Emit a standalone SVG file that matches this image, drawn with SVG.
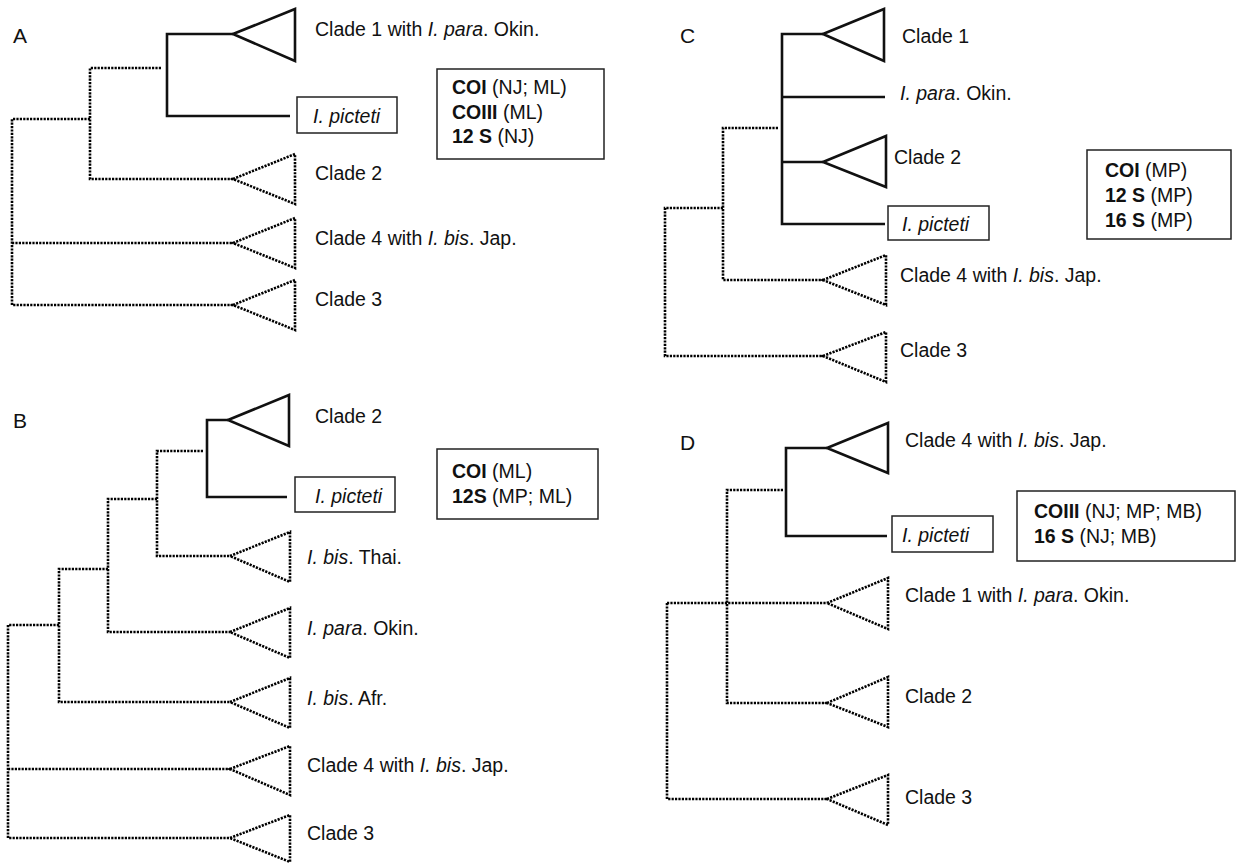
<svg xmlns="http://www.w3.org/2000/svg" width="1237" height="864" viewBox="0 0 1237 864">
<style>
text{font-family:"Liberation Sans",Arial,sans-serif;font-size:19.5px;fill:#111}
.it{font-style:italic}
.b{font-weight:bold}
.pl{font-size:21px}
.s{fill:none;stroke:#111;stroke-width:2.6;stroke-linejoin:miter}
.d{fill:none;stroke:#000;stroke-width:2.6;stroke-dasharray:2.2 1.2}
.box{fill:#fff;stroke:#222;stroke-width:1.5}
</style>
<rect width="1237" height="864" fill="#fff"/>

<!-- Panel A -->
<g id="panelA">
<text class="pl" x="13" y="43">A</text>
<g id="A-connectors">
<path class="s" d="M233,34H167V116H290"/>
<path class="d" d="M161,68H90V179H233"/>
<path class="d" d="M90,119H12V305H233M12,243H233"/>
</g>
<g id="A-clade1"><polygon class="s" points="233,34 295,9 295,61"/><text x="315" y="36">Clade 1 with <tspan class="it">I. para</tspan>. Okin.</text></g>
<g id="A-picteti"><rect class="box" x="297" y="97" width="100" height="36"/><text class="it" x="313" y="123">I. picteti</text></g>
<g id="A-clade2"><path class="d" d="M233,179L295,154V204Z"/><text x="315" y="180">Clade 2</text></g>
<g id="A-clade4"><path class="d" d="M233,243L295,218V268Z"/><text x="315" y="245">Clade 4 with <tspan class="it">I. bis</tspan>. Jap.</text></g>
<g id="A-clade3"><path class="d" d="M233,305L295,280V330Z"/><text x="315" y="306">Clade 3</text></g>
<g id="A-legend"><rect class="box" x="437" y="69" width="167" height="90"/>
<text x="452" y="94"><tspan class="b">COI</tspan> (NJ; ML)</text>
<text x="452" y="119"><tspan class="b">COIII</tspan> (ML)</text>
<text x="452" y="143"><tspan class="b">12 S</tspan> (NJ)</text></g>
</g>

<!-- Panel B -->
<g id="panelB">
<text class="pl" x="13" y="428">B</text>
<g id="B-connectors">
<path class="s" d="M228,420H207V497H287"/>
<path class="d" d="M203,451H157V556H230"/>
<path class="d" d="M157,499H108V632H230"/>
<path class="d" d="M108,569H59V702H230"/>
<path class="d" d="M59,625H8V838H230M8,769H230"/>
</g>
<g id="B-clade2"><polygon class="s" points="228,420 289,395 289,446"/><text x="315" y="423">Clade 2</text></g>
<g id="B-picteti"><rect class="box" x="295" y="477" width="100" height="35"/><text class="it" x="315" y="503">I. picteti</text></g>
<g id="B-thai"><path class="d" d="M230,556L290,532V582Z"/><text x="307" y="564"><tspan class="it">I. bis</tspan>. Thai.</text></g>
<g id="B-okin"><path class="d" d="M230,632L290,608V658Z"/><text x="307" y="635"><tspan class="it">I. para</tspan>. Okin.</text></g>
<g id="B-afr"><path class="d" d="M230,702L290,678V728Z"/><text x="307" y="705"><tspan class="it">I. bis</tspan>. Afr.</text></g>
<g id="B-clade4"><path class="d" d="M230,769L290,746V795Z"/><text x="307" y="772">Clade 4 with <tspan class="it">I. bis</tspan>. Jap.</text></g>
<g id="B-clade3"><path class="d" d="M230,838L290,815V862Z"/><text x="307" y="840">Clade 3</text></g>
<g id="B-legend"><rect class="box" x="437" y="449" width="161" height="70"/>
<text x="452" y="478"><tspan class="b">COI</tspan> (ML)</text>
<text x="452" y="503"><tspan class="b">12S</tspan> (MP; ML)</text></g>
</g>

<!-- Panel C -->
<g id="panelC">
<text class="pl" x="680" y="43">C</text>
<g id="C-connectors">
<path class="s" d="M823,34H782V224H885M782,97H885M782,162H823"/>
<path class="d" d="M778,128H723V280H823"/>
<path class="d" d="M723,208H665V356H823"/>
</g>
<g id="C-clade1"><polygon class="s" points="823,34 884,9 884,61"/><text x="902" y="43">Clade 1</text></g>
<g id="C-okin"><text x="900" y="100"><tspan class="it">I. para</tspan>. Okin.</text></g>
<g id="C-clade2"><polygon class="s" points="823,162 886,136 886,187"/><text x="894" y="164">Clade 2</text></g>
<g id="C-picteti"><rect class="box" x="888" y="206" width="101" height="34"/><text class="it" x="902" y="231">I. picteti</text></g>
<g id="C-clade4"><path class="d" d="M823,280L886,255V305Z"/><text x="900" y="282">Clade 4 with <tspan class="it">I. bis</tspan>. Jap.</text></g>
<g id="C-clade3"><path class="d" d="M823,356L886,332V382Z"/><text x="900" y="357">Clade 3</text></g>
<g id="C-legend"><rect class="box" x="1087" y="150" width="144" height="89"/>
<text x="1105" y="177"><tspan class="b">COI</tspan> (MP)</text>
<text x="1105" y="202"><tspan class="b">12 S</tspan> (MP)</text>
<text x="1105" y="227"><tspan class="b">16 S</tspan> (MP)</text></g>
</g>

<!-- Panel D -->
<g id="panelD">
<text class="pl" x="680" y="450">D</text>
<g id="D-connectors">
<path class="s" d="M827,448H786V536H887"/>
<path class="d" d="M783,490H727V703H827M667,603H827"/>
<path class="d" d="M667,603V799H827"/>
</g>
<g id="D-clade4"><polygon class="s" points="827,448 888,423 888,473"/><text x="905" y="447">Clade 4 with <tspan class="it">I. bis</tspan>. Jap.</text></g>
<g id="D-picteti"><rect class="box" x="892" y="516" width="101" height="36"/><text class="it" x="902" y="542">I. picteti</text></g>
<g id="D-clade1"><path class="d" d="M827,603L888,578V629Z"/><text x="905" y="602">Clade 1 with <tspan class="it">I. para</tspan>. Okin.</text></g>
<g id="D-clade2"><path class="d" d="M827,703L888,677V727Z"/><text x="905" y="703">Clade 2</text></g>
<g id="D-clade3"><path class="d" d="M827,799L888,775V825Z"/><text x="905" y="804">Clade 3</text></g>
<g id="D-legend"><rect class="box" x="1017" y="491" width="218" height="70"/>
<text x="1034" y="518"><tspan class="b">COIII</tspan> (NJ; MP; MB)</text>
<text x="1034" y="543"><tspan class="b">16 S</tspan> (NJ; MB)</text></g>
</g>
</svg>
